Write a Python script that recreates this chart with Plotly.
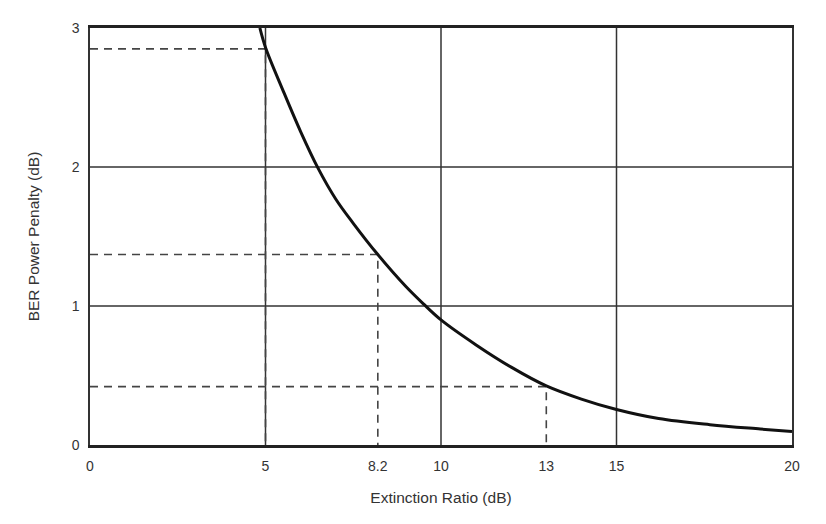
import plotly.graph_objects as go

# Curve: BER power penalty vs extinction ratio
curve_x = [4.84, 5.0, 5.5, 6.0, 6.5, 7.0, 7.5, 8.2, 9.0, 9.5, 10.0, 11.0, 12.0, 13.0, 14.0, 15.0, 16.2, 17.66, 19.1, 20.0]
curve_y = [3.0, 2.86, 2.55, 2.255, 1.99, 1.77, 1.595, 1.37, 1.14, 1.015, 0.90, 0.72, 0.56, 0.425, 0.33, 0.255, 0.19, 0.146, 0.115, 0.097]

# Reference (dashed) points
ref_x = [5, 8.2, 13]
ref_y = [2.85, 1.37, 0.42]

x_ticks = [0, 5, 8.2, 10, 13, 15, 20]
x_tick_labels = ["0", "5", "8.2", "10", "13", "15", "20"]
y_ticks = [0, 1, 2, 3]
grid_x = [5, 10, 15]
grid_y = [1, 2]

FONT = "Liberation Sans, Arial, sans-serif"

fig = go.Figure()

for rx, ry in zip(ref_x, ref_y):
    fig.add_trace(go.Scatter(
        x=[0, rx, rx], y=[ry, ry, 0], mode="lines",
        line=dict(color="#444444", width=1.6, dash="8px,6px"),
        hoverinfo="skip", showlegend=False,
    ))

fig.add_trace(go.Scatter(
    x=curve_x, y=curve_y, mode="lines",
    line=dict(color="#111111", width=3, shape="spline", smoothing=1.0),
    showlegend=False, cliponaxis=True,
))

shapes = []
for gx in grid_x:
    shapes.append(dict(type="line", xref="x", yref="y", x0=gx, x1=gx, y0=0, y1=3,
                       line=dict(color="#333333", width=1.5), layer="below"))
for gy in grid_y:
    shapes.append(dict(type="line", xref="x", yref="y", x0=0, x1=20, y0=gy, y1=gy,
                       line=dict(color="#333333", width=1.5), layer="below"))

fig.update_layout(
    width=826, height=524,
    margin=dict(l=82, r=42, t=20, b=87),
    paper_bgcolor="white", plot_bgcolor="white",
    font=dict(family=FONT, size=14, color="#333333"),
    shapes=shapes,
    xaxis=dict(
        range=[0, 20], tickvals=x_ticks, ticktext=x_tick_labels,
        showgrid=False, zeroline=False,
        showline=True, linecolor="#222222", linewidth=3, mirror=True,
        ticks="outside", ticklen=6, tickcolor="rgba(0,0,0,0)",
        tickfont=dict(family=FONT, size=14, color="#333333"),
        title=dict(text="Extinction Ratio (dB)", standoff=20,
                   font=dict(family=FONT, size=15.5, color="#333333")),
    ),
    yaxis=dict(
        range=[0, 3], tickvals=y_ticks,
        showgrid=False, zeroline=False,
        showline=True, linecolor="#333333", linewidth=1.5, mirror=True,
        ticks="outside", ticklen=6, tickcolor="rgba(0,0,0,0)",
        tickfont=dict(family=FONT, size=14, color="#333333"),
        title=dict(text="BER Power Penalty (dB)", standoff=28,
                   font=dict(family=FONT, size=15.5, color="#333333")),
    ),
)

fig.write_html("out.html")
